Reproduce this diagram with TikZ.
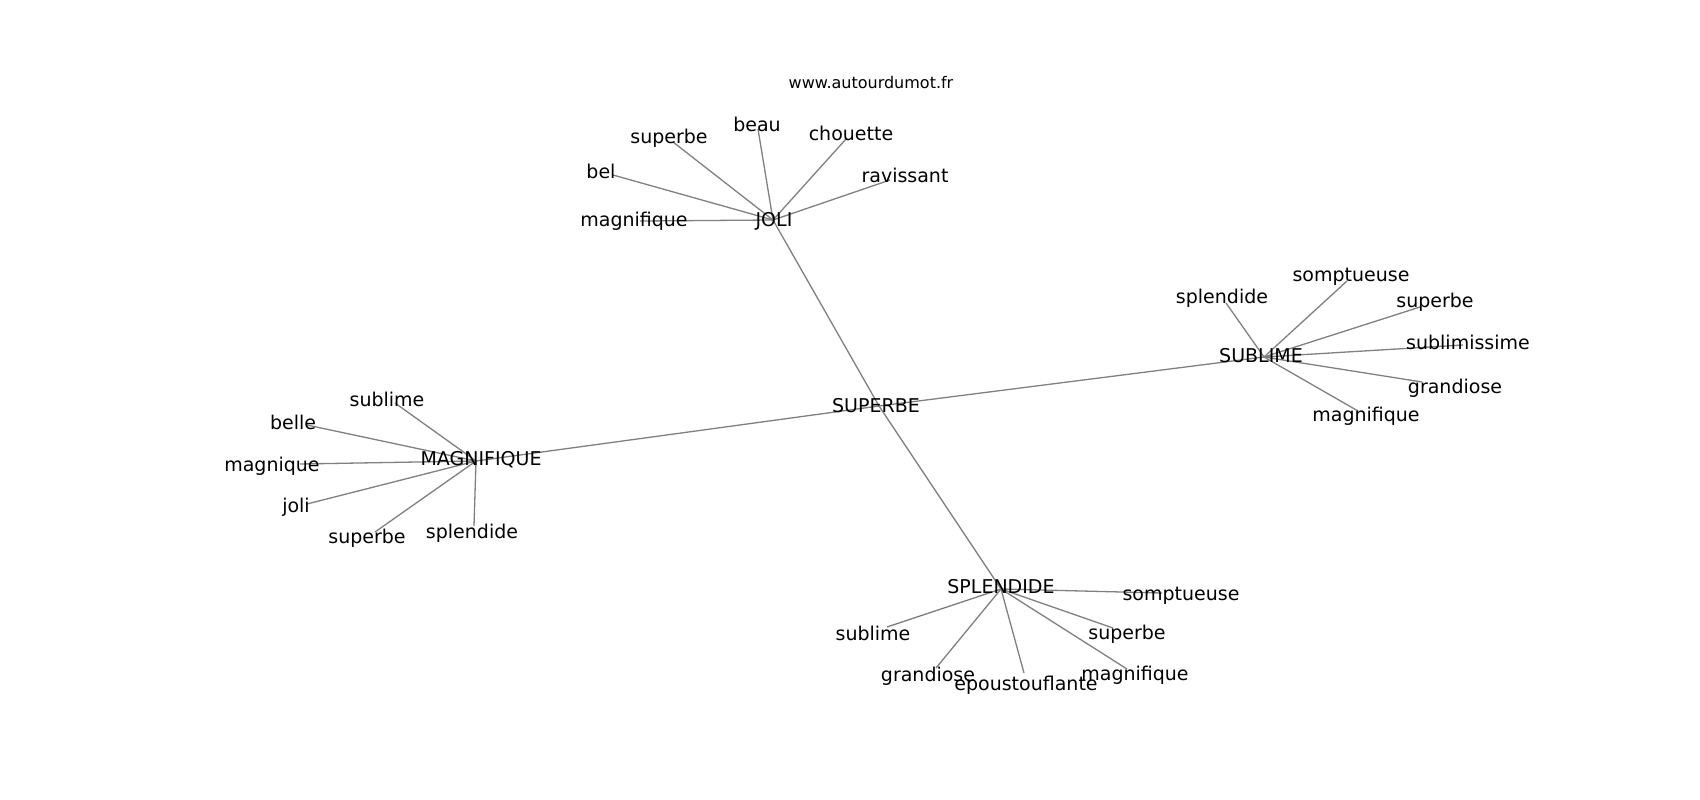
\documentclass[tikz,border=0pt]{standalone}
\usepackage{fontspec}
\setmainfont{DejaVu Sans}
\begin{document}
\begin{tikzpicture}[x=1pt,y=-1pt,
  lbl/.style={inner sep=0pt,anchor=center,font=\fontsize{19}{19}\selectfont},
  ttl/.style={inner sep=0pt,anchor=center,font=\fontsize{16}{16}\selectfont},
  edge/.style={draw=gray,line width=1.3pt}]
\useasboundingbox[fill=white] (0,0) rectangle (1700,800);
% graph vertices
\coordinate (v0) at (879,406);
\coordinate (vJ) at (773,220);
\coordinate (vS) at (1264,357);
\coordinate (vM) at (476,461);
\coordinate (vP) at (1001,589);
% JOLI
\coordinate (j1) at (758,129);
\coordinate (j2) at (673,142);
\coordinate (j3) at (846,139);
\coordinate (j4) at (613,175);
\coordinate (j5) at (640,221);
\coordinate (j6) at (890,180);
% SUBLIME
\coordinate (s1) at (1226,303);
\coordinate (s2) at (1347,281);
\coordinate (s3) at (1420,307);
\coordinate (s4) at (1463,345);
\coordinate (s5) at (1422,382);
\coordinate (s6) at (1358,411);
% MAGNIFIQUE
\coordinate (m1) at (395,403);
\coordinate (m2) at (307,425);
\coordinate (m3) at (300,464);
\coordinate (m4) at (307,504);
\coordinate (m5) at (375,532);
\coordinate (m6) at (474,526);
% SPLENDIDE
\coordinate (p1) at (887,627);
\coordinate (p2) at (1162,593);
\coordinate (p3) at (1113,628);
\coordinate (p4) at (1127,669);
\coordinate (p5) at (936,668);
\coordinate (p6) at (1024,673);
% edges
\foreach \a/\b in {v0/vJ,v0/vS,v0/vM,v0/vP,
  vJ/j1,vJ/j2,vJ/j3,vJ/j4,vJ/j5,vJ/j6,
  vS/s1,vS/s2,vS/s3,vS/s4,vS/s5,vS/s6,
  vM/m1,vM/m2,vM/m3,vM/m4,vM/m5,vM/m6,
  vP/p1,vP/p2,vP/p3,vP/p4,vP/p5,vP/p6}
  \draw[edge] (\a) -- (\b);
% labels
\node[ttl] (title) at (871,83) {www.autourdumot.fr};
\node[lbl] (L0) at (876,406) {SUPERBE};
\node[lbl] (LJ) at (774,221) {JOLI};
\node[lbl] (LS) at (1261,356) {SUBLIME};
\node[lbl] (LM) at (481,460) {MAGNIFIQUE};
\node[lbl] (LP) at (1001,587) {SPLENDIDE};
\node[lbl] (Lj1) at (757,124) {beau};
\node[lbl] (Lj2) at (669,138) {superbe};
\node[lbl] (Lj3) at (851,133) {chouette};
\node[lbl] (Lj4) at (601,171) {bel};
\node[lbl] (Lj5) at (634,221) {magnifique};
\node[lbl] (Lj6) at (905,175) {ravissant};
\node[lbl] (Ls1) at (1222,298) {splendide};
\node[lbl] (Ls2) at (1351,277) {somptueuse};
\node[lbl] (Ls3) at (1435,302) {superbe};
\node[lbl] (Ls4) at (1468,342) {sublimissime};
\node[lbl] (Ls5) at (1455,388) {grandiose};
\node[lbl] (Ls6) at (1366,416) {magnifique};
\node[lbl] (Lm1) at (387,399) {sublime};
\node[lbl] (Lm2) at (293,422) {belle};
\node[lbl] (Lm3) at (272,466) {magnique};
\node[lbl] (Lm4) at (296,507) {joli};
\node[lbl] (Lm5) at (367,538) {superbe};
\node[lbl] (Lm6) at (472,533) {splendide};
\node[lbl] (Lp1) at (873,633) {sublime};
\node[lbl] (Lp2) at (1181,596) {somptueuse};
\node[lbl] (Lp3) at (1127,634) {superbe};
\node[lbl] (Lp4) at (1135,675) {magnifique};
\node[lbl] (Lp5) at (928,676) {grandiose};
\node[lbl] (Lp6) at (1026,685) {epoustouflante};
\end{tikzpicture}
\end{document}
